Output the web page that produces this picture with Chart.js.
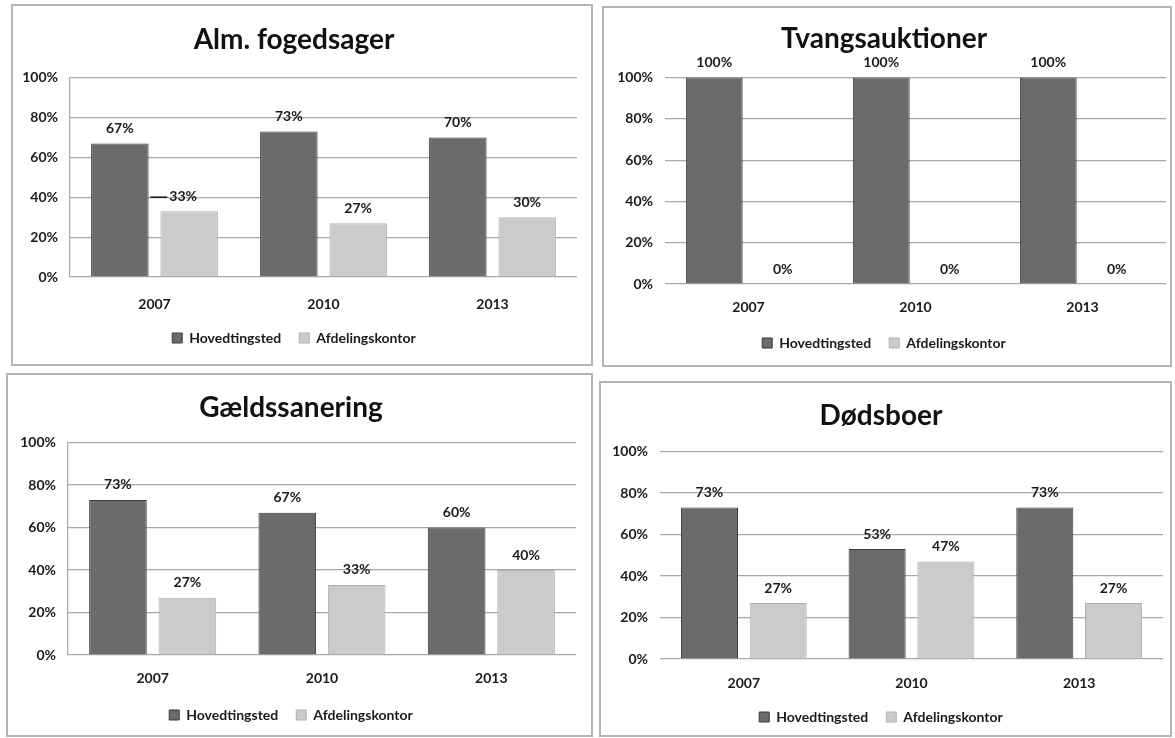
<!DOCTYPE html>
<html lang="da">
<head>
<meta charset="UTF-8">
<title>Hovedtingsted og afdelingskontor</title>
<script src="https://cdn.jsdelivr.net/npm/chart.js@4.4.1/dist/chart.umd.min.js"></script>
<style>
  html, body { margin: 0; padding: 0; background: #fff; }
  body { width: 1175px; height: 738px; position: relative; overflow: hidden; font-family: Lato, sans-serif; }
  .panel { position: absolute; box-sizing: border-box; border: 2px solid #b4b4b4; }
  .chart-box { position: absolute; }
</style>
</head>
<body>
<div id="root"></div>
<script>
// Data
const years = ["2007", "2010", "2013"];
const seriesNames = ["Hovedtingsted", "Afdelingskontor"];
const yTicks = [0, 20, 40, 60, 80, 100];

const almHoved = [67, 73, 70];
const almAfd = [33, 27, 30];

const tvangHoved = [100, 100, 100];
const tvangAfd = [0, 0, 0];

const gaeldHoved = [73, 67, 60];
const gaeldAfd = [27, 33, 40];

const doedsHoved = [73, 53, 73];
const doedsAfd = [27, 47, 27];

// Panel layout (box = left, top, width, height)
const panels = [
  { title: "Alm. fogedsager", hoved: almHoved, afd: almAfd,
    box: [11, 4, 582, 362], plotLeft: 59, padRight: 16, titlePad: [19, 21],
    axisLine: true, xPad: 19, xHeight: 36, padBottom: 11,
    leader: { dataset: 1, index: 0, dx: -6 } },
  { title: "Tvangsauktioner", hoved: tvangHoved, afd: tvangAfd,
    box: [602, 6, 570, 361], plotLeft: 63, padRight: 6, titlePad: [16, 22],
    axisLine: false, xPad: 15, xHeight: 34, padBottom: 7 },
  { title: "Gældssanering", hoved: gaeldHoved, afd: gaeldAfd,
    box: [6, 373, 587, 364], plotLeft: 62, padRight: 17, titlePad: [18, 18],
    axisLine: true, xPad: 15, xHeight: 35, padBottom: 5 },
  { title: "Dødsboer", hoved: doedsHoved, afd: doedsAfd,
    box: [599, 381, 573, 356], plotLeft: 61, padRight: 9, titlePad: [18, 19],
    axisLine: false, xPad: 16, xHeight: 33, padBottom: 3 }
];

const textColor = "#1a1a1a";
const gridColor = "#a8a8a8";
const labelFont = { family: "Lato", size: 14, weight: "bold" };

// Percent labels above each bar
const valueLabels = {
  id: "valueLabels",
  afterDatasetsDraw(chart, args, opts) {
    const ctx = chart.ctx;
    ctx.save();
    ctx.font = "bold 14px Lato";
    ctx.fillStyle = textColor;
    ctx.strokeStyle = "#111";
    ctx.lineWidth = 1.5;
    ctx.textAlign = "center";
    ctx.textBaseline = "middle";
    chart.data.datasets.forEach((ds, d) => {
      chart.getDatasetMeta(d).data.forEach((bar, i) => {
        let x = bar.x;
        const y = bar.y - 15;
        const text = ds.data[i] + "%";
        const lead = opts.leader;
        if (lead && lead.dataset === d && lead.index === i) {
          x += lead.dx;
          const left = x - ctx.measureText(text).width / 2;
          ctx.beginPath();
          ctx.moveTo(left - 19, y + 1);
          ctx.lineTo(left - 2, y + 1);
          ctx.stroke();
        }
        ctx.fillText(text, x, y);
      });
    });
    ctx.restore();
  }
};

function makePanel(p) {
  const root = document.getElementById("root");
  const [left, top, width, height] = p.box;

  const wrap = document.createElement("div");
  wrap.className = "chart-box";
  wrap.style.cssText = `left:${left}px;top:${top}px;width:${width}px;height:${height}px;`;
  const canvas = document.createElement("canvas");
  wrap.appendChild(canvas);
  root.appendChild(wrap);

  const frame = document.createElement("div");
  frame.className = "panel";
  frame.style.cssText = `left:${left}px;top:${top}px;width:${width}px;height:${height}px;`;
  root.appendChild(frame);

  new Chart(canvas, {
    type: "bar",
    data: {
      labels: years,
      datasets: [
        {
          label: seriesNames[0],
          data: p.hoved,
          backgroundColor: "#6b6b6b",
          borderColor: "#3a3a3a",
          borderWidth: 1
        },
        {
          label: seriesNames[1],
          data: p.afd,
          backgroundColor: "#cbcbcb",
          borderColor: "#b0b0b0",
          borderWidth: 1
        }
      ]
    },
    options: {
      responsive: true,
      maintainAspectRatio: false,
      animation: false,
      datasets: {
        bar: { categoryPercentage: 0.82, barPercentage: 0.83 }
      },
      layout: {
        padding: { left: 0, right: p.padRight, top: 0, bottom: p.padBottom }
      },
      scales: {
        x: {
          grid: { display: false, drawTicks: false },
          border: { display: false },
          ticks: { padding: p.xPad, color: textColor, font: labelFont },
          afterFit: (s) => { s.height = p.xHeight; }
        },
        y: {
          min: 0,
          max: 100,
          afterBuildTicks: (s) => { s.ticks = yTicks.map((v) => ({ value: v })); },
          ticks: {
            padding: 12,
            color: textColor,
            font: labelFont,
            callback: (v) => v + "%"
          },
          grid: { color: gridColor, lineWidth: 1.2, drawTicks: false },
          border: { display: p.axisLine, color: gridColor, width: 1.2 },
          afterFit: (s) => { s.width = p.plotLeft; }
        }
      },
      plugins: {
        title: {
          display: true,
          text: p.title,
          color: "#111",
          font: { family: "Lato", size: 28, weight: "bold", lineHeight: 1.2 },
          padding: { top: p.titlePad[0], bottom: p.titlePad[1] }
        },
        legend: {
          position: "bottom",
          labels: {
            boxWidth: 10,
            boxHeight: 10,
            padding: 18,
            color: textColor,
            font: labelFont
          }
        },
        tooltip: { enabled: false },
        valueLabels: { leader: p.leader }
      }
    },
    plugins: [valueLabels]
  });
}

document.addEventListener("DOMContentLoaded", function () {
  panels.forEach(makePanel);
});
</script>
</body>
</html>
